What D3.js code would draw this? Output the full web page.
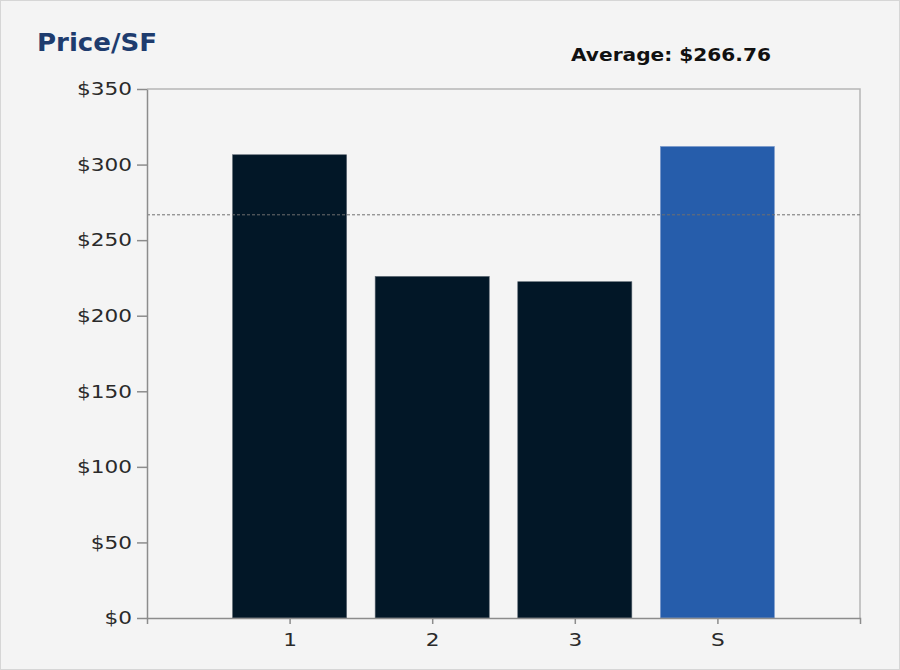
<!DOCTYPE html>
<html>
<head>
<meta charset="utf-8">
<script src="https://cdn.jsdelivr.net/npm/d3@7"></script>
<style>
  body { margin: 0; background: #fff; }
  svg { display: block; font-family: "DejaVu Sans", sans-serif; }
</style>
</head>
<body>
<div id="chart"></div>
<script>
var categories = ['1', '2', '3', 'S'];
var values = [306.5, 226, 222.5, 312];
var barColors = ['#021727', '#021727', '#021727', '#265dab'];
var yTicks = [0, 50, 100, 150, 200, 250, 300, 350];
var average = 266.76;

var width = 900,
    height = 670,
    margin = { top: 89, right: 40, bottom: 52, left: 147 };

var svg = d3.select('#chart')
    .append('svg')
    .attr('width', width)
    .attr('height', height);

// widen glyphs a bit, the original face is broader than anything installed
function stretch(sel, k) {
    sel.each(function() {
        var len = this.getComputedTextLength();
        d3.select(this)
            .attr('textLength', len * k)
            .attr('lengthAdjust', 'spacingAndGlyphs');
    });
}

// panel background + frame
svg.append('rect')
    .attr('x', 0.5).attr('y', 0.5)
    .attr('width', width - 1).attr('height', height - 1)
    .attr('fill', '#f4f4f4')
    .attr('stroke', '#d6d6d6');

var x = d3.scalePoint()
    .domain(categories)
    .range([margin.left, width - margin.right])
    .padding(1);

var y = d3.scaleLinear()
    .domain([0, 350])
    .range([height - margin.bottom, margin.top]);

var barW = x.step() * 0.8;

// plot frame (top + right)
svg.append('path')
    .attr('d', 'M' + margin.left + ',' + y(350) + 'H' + (width - margin.right) + 'V' + y(0))
    .attr('fill', 'none')
    .attr('stroke', '#b5b5b5')
    .attr('stroke-width', 1.5);

svg.append('g')
    .selectAll('rect')
    .data(values)
    .join('rect')
    .attr('x', (d, i) => x(categories[i]) - barW / 2)
    .attr('y', d => y(d))
    .attr('width', barW)
    .attr('height', d => y(0) - y(d))
    .attr('fill', (d, i) => barColors[i])
    .attr('stroke', (d, i) => i === 3 ? '#7f9ccc' : '#5a6570')
    .attr('stroke-width', 0.6);

// average line
svg.append('line')
    .attr('x1', margin.left)
    .attr('x2', width - margin.right)
    .attr('y1', y(average))
    .attr('y2', y(average))
    .attr('stroke', '#707070')
    .attr('stroke-width', 1)
    .attr('stroke-dasharray', '3,2');

var yAxis = svg.append('g')
    .attr('transform', 'translate(' + margin.left + ',0)')
    .call(d3.axisLeft(y).tickValues(yTicks).tickSize(10).tickSizeOuter(0).tickPadding(5)
        .tickFormat(d => '$' + d));

var xAxis = svg.append('g')
    .attr('transform', 'translate(0,' + y(0) + ')')
    .call(d3.axisBottom(x).tickSize(6).tickSizeOuter(6).tickPadding(9));

[yAxis, xAxis].forEach(function(g) {
    g.selectAll('path, line').attr('stroke', '#8c8c8c').attr('stroke-width', 1.5);
    g.selectAll('text')
        .style('font-family', '"DejaVu Sans", sans-serif')
        .style('font-size', '18px')
        .attr('fill', '#2a2a2a')
        .call(stretch, 1.2);
});

svg.append('text')
    .attr('x', 37)
    .attr('y', 51)
    .style('font-size', '24px')
    .style('font-weight', '700')
    .attr('fill', '#1e3c6e')
    .attr('textLength', 120)
    .attr('lengthAdjust', 'spacingAndGlyphs')
    .text('Price/SF');

svg.append('text')
    .attr('x', 571)
    .attr('y', 61)
    .style('font-size', '17px')
    .style('font-weight', '700')
    .attr('fill', '#111')
    .attr('textLength', 200)
    .attr('lengthAdjust', 'spacingAndGlyphs')
    .text('Average: $' + average.toFixed(2));
</script>
</body>
</html>
